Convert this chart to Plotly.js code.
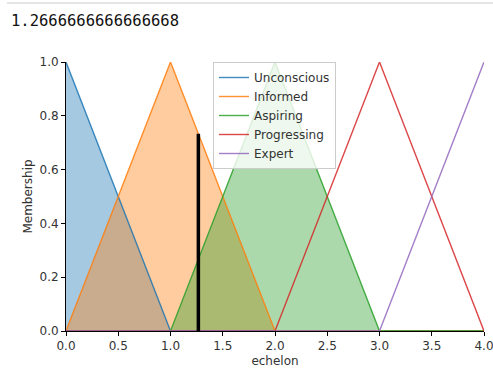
<!DOCTYPE html>
<html>
<head>
<meta charset="utf-8">
<script src="https://cdn.plot.ly/plotly-3.0.1.min.js"></script>
<style>html,body{margin:0;padding:0;background:#fff;}#chart{width:493px;height:371px;}</style>
</head>
<body>
<div id="chart"></div>
<script>
// Data
const outputValue = 1.2666666666666668;
const termNames = ["Unconscious", "Informed", "Aspiring", "Progressing", "Expert"];
const unconsciousX = [0, 1, 4];
const unconsciousY = [1, 0, 0];
const informedX = [0, 1, 2, 4];
const informedY = [0, 1, 0, 0];
const aspiringX = [0, 1, 2, 3, 4];
const aspiringY = [0, 0, 1, 0, 0];
const progressingX = [0, 2, 3, 4];
const progressingY = [0, 0, 1, 0];
const expertX = [0, 3, 4];
const expertY = [0, 0, 1];
const cutHeight = 0.7333333333333332;
const xTicks = [0, 0.5, 1, 1.5, 2, 2.5, 3, 3.5, 4];
const yTicks = [0, 0.2, 0.4, 0.6, 0.8, 1.0];

const colors = ["#1f77b4", "#ff7f0e", "#2ca02c", "#d62728", "#9467bd"];
const fills = ["rgba(31,119,180,0.4)", "rgba(255,127,14,0.4)", "rgba(44,160,44,0.4)", null, null];
const xs = [unconsciousX, informedX, aspiringX, progressingX, expertX];
const ys = [unconsciousY, informedY, aspiringY, progressingY, expertY];

const traces = [];
for (let i = 0; i < termNames.length; i++) {
  if (fills[i]) {
    traces.push({
      x: xs[i], y: ys[i], type: "scatter", mode: "none", fill: "tozeroy",
      fillcolor: fills[i], showlegend: false, hoverinfo: "skip"
    });
  }
}
for (let i = 0; i < termNames.length; i++) {
  traces.push({
    x: xs[i], y: ys[i], type: "scatter", mode: "lines", name: termNames[i],
    line: {color: colors[i], width: 1.4}, opacity: 0.85, cliponaxis: false
  });
}
traces.push({
  x: [outputValue, outputValue], y: [0, cutHeight], type: "scatter", mode: "lines",
  line: {color: "#000", width: 3.5}, showlegend: false, hoverinfo: "skip", cliponaxis: false
});

const L = 66, R = 9, T = 62, B = 40, W = 493, H = 371;
const pw = W - L - R, ph = H - T - B;
const px = v => (v - L) / pw;
const py = v => (H - B - v) / ph;

const layout = {
  width: W, height: H,
  margin: {l: L, r: R, t: T, b: B, pad: 0},
  paper_bgcolor: "#fff", plot_bgcolor: "#fff",
  font: {family: "DejaVu Sans", size: 12, color: "#333333"},
  xaxis: {
    range: [0, 4], tickvals: xTicks, ticktext: xTicks.map(v => v.toFixed(1)),
    showgrid: false, zeroline: false, showline: true, linecolor: "#000", linewidth: 1,
    ticks: "outside", ticklen: 4, tickcolor: "#000", tickwidth: 1, automargin: false,
    ticklabeloverflow: "allow",
    title: {text: "echelon", font: {size: 12}, standoff: 4}, fixedrange: true
  },
  yaxis: {
    range: [0, 1], tickvals: yTicks, ticktext: yTicks.map(v => v.toFixed(1)),
    showgrid: false, zeroline: false, showline: true, linecolor: "#000", linewidth: 1,
    ticks: "outside", ticklen: 4, tickcolor: "#000", tickwidth: 1, automargin: false,
    ticklabeloverflow: "allow",
    title: {text: "Membership", font: {size: 12}, standoff: 4}, fixedrange: true
  },
  showlegend: true,
  legend: {
    x: px(213), y: py(62), xanchor: "left", yanchor: "top",
    bgcolor: "rgba(255,255,255,0.8)", bordercolor: "#cccccc", borderwidth: 1,
    font: {size: 12, color: "#333333"}, tracegroupgap: 0, itemwidth: 30
  },
  shapes: [{
    type: "line", xref: "paper", yref: "paper",
    x0: px(7), x1: px(493), y0: py(3), y1: py(3),
    line: {color: "#dddddd", width: 1.5}
  }],
  annotations: [{
    xref: "paper", yref: "paper", x: px(9), y: py(21), xanchor: "left", yanchor: "middle",
    text: String(outputValue), showarrow: false,
    font: {family: "DejaVu Sans Mono", size: 15.5, color: "#111"}
  }]
};

Plotly.newPlot("chart", traces, layout, {displayModeBar: false, staticPlot: true});
</script>
</body>
</html>
